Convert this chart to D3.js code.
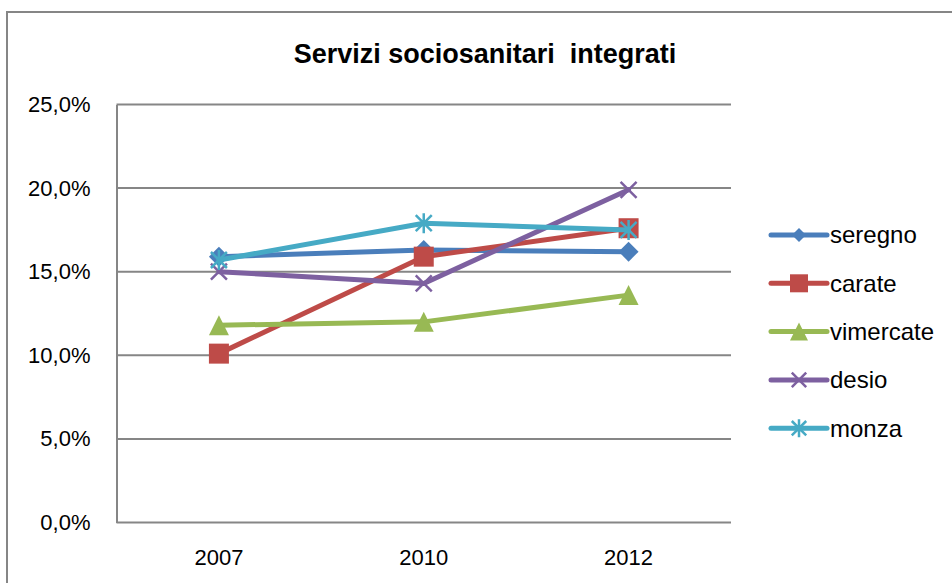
<!DOCTYPE html>
<html>
<head>
<meta charset="utf-8">
<script src="https://cdn.jsdelivr.net/npm/d3@7"></script>
<style>
  html, body { margin: 0; padding: 0; background: #fff; }
  svg text { font-family: "Liberation Sans", Arial, sans-serif; fill: #000; }
</style>
</head>
<body>
<div id="chart"></div>
<script>
// data
const years = ['2007', '2010', '2012'];
const seriesNames = ['seregno', 'carate', 'vimercate', 'desio', 'monza'];
const seregno = [15.9, 16.3, 16.2];
const carate = [10.1, 15.9, 17.6];
const vimercate = [11.8, 12.0, 13.6];
const desio = [15.0, 14.3, 19.9];
const monza = [15.7, 17.9, 17.5];
const yTicks = [0, 5, 10, 15, 20, 25];

const colors = ['#4A7EBB', '#BE4B48', '#98B954', '#7D60A0', '#46AAC5'];
const markers = ['diamond', 'square', 'triangle', 'x', 'star'];
const allValues = [seregno, carate, vimercate, desio, monza];

const width = 952, height = 583;
const plot = { left: 116.5, right: 731, top: 104.5, bottom: 522.5 };

const svg = d3.select('#chart').append('svg')
  .attr('width', width)
  .attr('height', height);

// chart border
svg.append('rect')
  .attr('x', 7).attr('y', 12)
  .attr('width', 960).attr('height', 600)
  .attr('fill', 'none')
  .attr('stroke', '#868686')
  .attr('stroke-width', 2);

const x = d3.scaleBand().domain(years).range([plot.left, plot.right]);
const y = d3.scaleLinear().domain([0, 25]).range([plot.bottom, plot.top]);

// gridlines
svg.append('g')
  .selectAll('line')
  .data(yTicks)
  .join('line')
  .attr('x1', plot.left).attr('x2', plot.right)
  .attr('y1', d => y(d)).attr('y2', d => y(d))
  .attr('stroke', '#868686')
  .attr('stroke-width', 2);

// y axis
const yAxis = svg.append('g')
  .attr('transform', `translate(${plot.left},0)`)
  .call(d3.axisLeft(y).tickValues(yTicks).tickSize(0).tickPadding(26)
    .tickFormat(d => d.toFixed(1).replace('.', ',') + '%'));
yAxis.select('.domain').attr('stroke', '#868686').attr('stroke-width', 2);
yAxis.selectAll('text').style('font-size', '22px').attr('fill', '#000');

// x axis
const xAxis = svg.append('g')
  .attr('transform', `translate(0,${plot.bottom})`)
  .call(d3.axisBottom(x).tickSize(0).tickPadding(27));
xAxis.select('.domain').remove();
xAxis.selectAll('text').style('font-size', '22px').attr('fill', '#000');

// title
svg.append('text')
  .attr('x', 485).attr('y', 63)
  .attr('text-anchor', 'middle')
  .attr('xml:space', 'preserve')
  .style('font-size', '27px')
  .style('font-weight', 'bold')
  .text('Servizi sociosanitari  integrati');

function drawMarker(g, type, color, size) {
  const h = size / 2;
  if (type === 'diamond') {
    g.append('path').attr('d', `M0,${-h}L${h},0L0,${h}L${-h},0Z`).attr('fill', color);
  } else if (type === 'square') {
    g.append('rect').attr('x', -h).attr('y', -h).attr('width', size).attr('height', size).attr('fill', color);
  } else if (type === 'triangle') {
    g.append('path').attr('d', `M0,${-h}L${h},${h}L${-h},${h}Z`).attr('fill', color);
  } else if (type === 'x') {
    const k = h * 0.8;
    g.append('path').attr('d', `M${-k},${-k}L${k},${k}M${k},${-k}L${-k},${k}`)
      .attr('stroke', color).attr('stroke-width', 2.5).attr('fill', 'none');
  } else if (type === 'star') {
    const k = h * 0.8;
    g.append('path').attr('d', `M${-k},${-k}L${k},${k}M${k},${-k}L${-k},${k}M0,${-h}L0,${h}`)
      .attr('stroke', color).attr('stroke-width', 2.5).attr('fill', 'none');
  }
}

const line = d3.line()
  .x((d, i) => x(years[i]) + x.bandwidth() / 2)
  .y(d => y(d));

allValues.forEach((vals, s) => {
  const g = svg.append('g');
  g.append('path')
    .datum(vals)
    .attr('d', line)
    .attr('fill', 'none')
    .attr('stroke', colors[s])
    .attr('stroke-width', 5)
    .attr('stroke-linejoin', 'round')
    .attr('stroke-linecap', 'round');
  vals.forEach((v, i) => {
    const m = g.append('g')
      .attr('transform', `translate(${x(years[i]) + x.bandwidth() / 2},${y(v)})`);
    drawMarker(m, markers[s], colors[s], 20);
  });
});

// legend
const legend = svg.append('g');
seriesNames.forEach((name, s) => {
  const ly = 235 + s * 48.3;
  const g = legend.append('g').attr('transform', `translate(0,${ly})`);
  g.append('line')
    .attr('x1', 771).attr('x2', 827)
    .attr('y1', 0).attr('y2', 0)
    .attr('stroke', colors[s])
    .attr('stroke-width', 5)
    .attr('stroke-linecap', 'round');
  const m = g.append('g').attr('transform', 'translate(799,0)');
  drawMarker(m, markers[s], colors[s], s === 0 ? 14 : 18);
  g.append('text')
    .attr('x', 830).attr('y', 0)
    .attr('dy', '0.35em')
    .style('font-size', '24px')
    .text(name);
});
</script>
</body>
</html>
